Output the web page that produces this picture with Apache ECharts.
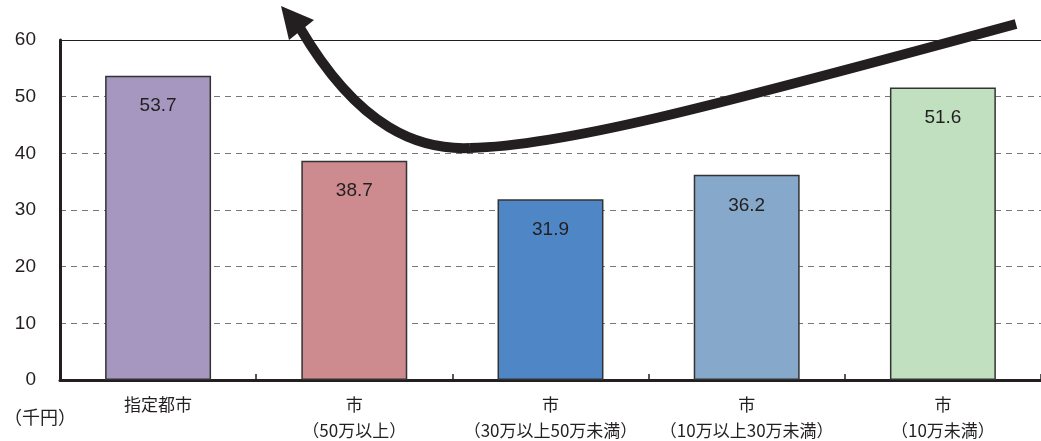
<!DOCTYPE html>
<html><head><meta charset="utf-8">
<script src="https://cdn.jsdelivr.net/npm/echarts@6/dist/echarts.min.js"></script>
<style>html,body{margin:0;padding:0;background:#fff}#c{width:1041px;height:441px}</style>
</head><body><div id="c"></div>
<script>
const categories = ['指定都市', '市\n（50万以上）', '市\n（30万以上50万未満）', '市\n（10万以上30万未満）', '市\n（10万未満）'];
const values = [53.7, 38.7, 31.9, 36.2, 51.6];
const barColors = ['#A597BF', '#CD8A8F', '#4F86C6', '#86A8CB', '#C0E0C0'];
const yTicks = { min: 0, max: 60, interval: 10 };
const unitLabel = '（千円）';

const chart = echarts.init(document.getElementById('c'), null, { renderer: 'canvas' });
const jp = '"Noto Sans CJK JP", "Noto Sans", sans-serif';
const num = '"Liberation Sans Narrow", "Liberation Sans", Arial, sans-serif';
const arrowStyle = { fill: null, stroke: '#231f20', lineWidth: 10 };
chart.setOption({
  animation: false,
  backgroundColor: '#fff',
  grid: { left: 60, right: 0, top: 40, bottom: 61, containLabel: false, outerBoundsMode: 'none' },
  xAxis: [{
    type: 'category', data: categories, position: 'bottom',
    axisLine: { lineStyle: { color: '#231f20', width: 3 } },
    axisTick: { show: true, inside: true, length: 6, lineStyle: { color: '#231f20', width: 1.5 } },
    axisLabel: { color: '#231f20', fontFamily: jp, fontSize: 17, margin: 12, lineHeight: 26, interval: 0 }
  }, {
    type: 'category', data: categories, position: 'top',
    axisLine: { show: true, lineStyle: { color: '#231f20', width: 1.2 } },
    axisTick: { show: false }, axisLabel: { show: false }
  }],
  yAxis: {
    type: 'value', min: yTicks.min, max: yTicks.max, interval: yTicks.interval,
    axisLine: { show: true, lineStyle: { color: '#231f20', width: 3 } },
    axisTick: { show: false },
    axisLabel: { color: '#231f20', fontFamily: num, fontSize: 19, margin: 24 },
    splitLine: { show: true, lineStyle: { color: '#777', type: [6, 5], width: 1 } }
  },
  series: [{
    type: 'bar', barWidth: '54%', xAxisIndex: 0,
    data: values.map((v, i) => ({ value: v, itemStyle: { color: barColors[i] } })),
    itemStyle: { borderColor: '#333', borderWidth: 1.5 },
    label: { show: true, position: 'insideTop', distance: 21, color: '#231f20', fontFamily: num, fontSize: 19,
      formatter: p => p.value.toFixed(1) }
  }],
  graphic: [
    { type: 'text', left: 4, top: 408, style: { text: unitLabel, fill: '#231f20', font: '18px ' + jp } },
    { type: 'bezierCurve', z: 100, shape: { x1: 300, y1: 28, cpx1: 360, cpy1: 130, cpx2: 420, cpy2: 150, x2: 470, y2: 148 }, style: arrowStyle },
    { type: 'bezierCurve', z: 100, shape: { x1: 470, y1: 148, cpx1: 560, cpy1: 146, cpx2: 700, cpy2: 110, x2: 1016, y2: 24 }, style: arrowStyle },
    { type: 'polygon', z: 101, shape: { points: [[281, 6], [314, 20], [289, 40]] }, style: { fill: '#231f20' } }
  ]
});
</script></body></html>
